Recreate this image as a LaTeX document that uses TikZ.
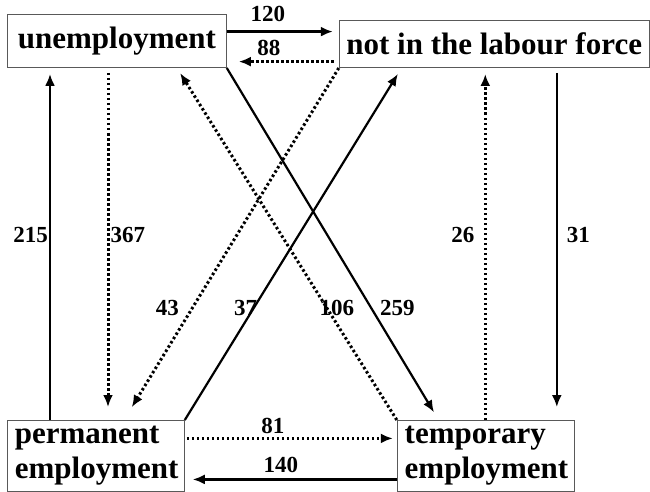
\documentclass[tikz,border=0pt]{standalone}
\usepackage{fontspec}
\setmainfont{Liberation Serif}
\usetikzlibrary{arrows.meta,positioning}
\tikzset{
  box/.style={draw=gray!70!black, line width=.8pt, inner sep=0pt, fill=white, font=\bfseries\fontsize{31}{35}\selectfont},
  boxtwo/.style={box, minimum width=177pt, minimum height=71pt, text width=162pt, align=left},
  ar/.style={-{Latex[length=12pt,width=10pt]}, line width=2.2pt},
  dar/.style={ar, line width=3pt, dash pattern=on 2.5pt off 2.5pt},
  num/.style={font=\bfseries\fontsize{23}{25}\selectfont, inner sep=1pt},
}

\begin{document}
\begin{tikzpicture}[x=1pt,y=-1pt]
    \useasboundingbox (0,0) rectangle (650,492);
    \node[box, anchor=south west, minimum width=219pt, minimum height=53pt] (unemp) at (7,68) {unemployment};
    \node[box, right=112pt of unemp.south east, anchor=south west, minimum width=310pt, minimum height=47pt] (notlab) {not in the labour force};
    \node[boxtwo, below=352pt of unemp.south west, anchor=north west] (perm) {permanent\\employment};
    \node[boxtwo, right=212pt of perm.north east, anchor=north west] (temp) {temporary\\employment};

    % flows along the top and bottom
    \draw[ar, shorten >=6pt] ([yshift=9.5pt]unemp.east) -- node[num, above=8pt, xshift=-15pt] {120} ([yshift=12.5pt]notlab.west);
    \draw[dar, shorten <=5pt, shorten >=12pt] ([yshift=-17.5pt]notlab.west) -- node[num, above=3pt, xshift=-14pt] {88} ([yshift=-20.5pt]unemp.east);
    \draw[dar, shorten <=2pt, shorten >=4pt] ([yshift=17.5pt]perm.east) -- node[num, above=2pt, xshift=-18pt] {81} ([yshift=17.5pt]temp.west);
    \draw[ar, shorten >=8pt] ([yshift=-23.5pt]temp.west) -- node[num, above=5pt, xshift=-10pt] {140} ([yshift=-23.5pt]perm.east);

    % flows up and down
    \draw[ar, shorten >=6pt] ([xshift=43pt]perm.north west) -- node[num, pos=.526, left] {215} ([xshift=43pt]unemp.south west);
    \draw[dar, shorten <=5pt, shorten >=13pt] ([xshift=101pt]unemp.south west) -- node[num, pos=.474, right] {367} ([xshift=101pt]perm.north west);
    \draw[dar, shorten >=6pt] ([xshift=88.5pt]temp.north west) -- node[num, pos=.526, left=8.5pt] {26} ([xshift=146.5pt]notlab.south west);
    \draw[ar, shorten <=5pt, shorten >=13pt] ([xshift=218pt]notlab.south west) -- node[num, pos=.474, right=8pt] {31} ([xshift=160pt]temp.north west);

    % crossing flows
    \draw[dar, shorten >=15pt] (notlab.south west) -- node[num, pos=.682, xshift=-25pt] {43} ([xshift=117pt]perm.north west);
    \draw[ar, shorten >=7pt] (perm.north east) -- node[num, pos=.318, xshift=-8pt] {37} ([xshift=62.7pt]notlab.south west);
    \draw[dar, shorten >=6pt] (temp.north west) -- node[num, pos=.318, xshift=10pt] {106} ([xshift=170pt]unemp.south west);
    \draw[ar, shorten >=9pt] (unemp.south east) -- node[num, pos=.682, xshift=26pt] {259} ([xshift=41.8pt]temp.north west);
\end{tikzpicture}
\end{document}
